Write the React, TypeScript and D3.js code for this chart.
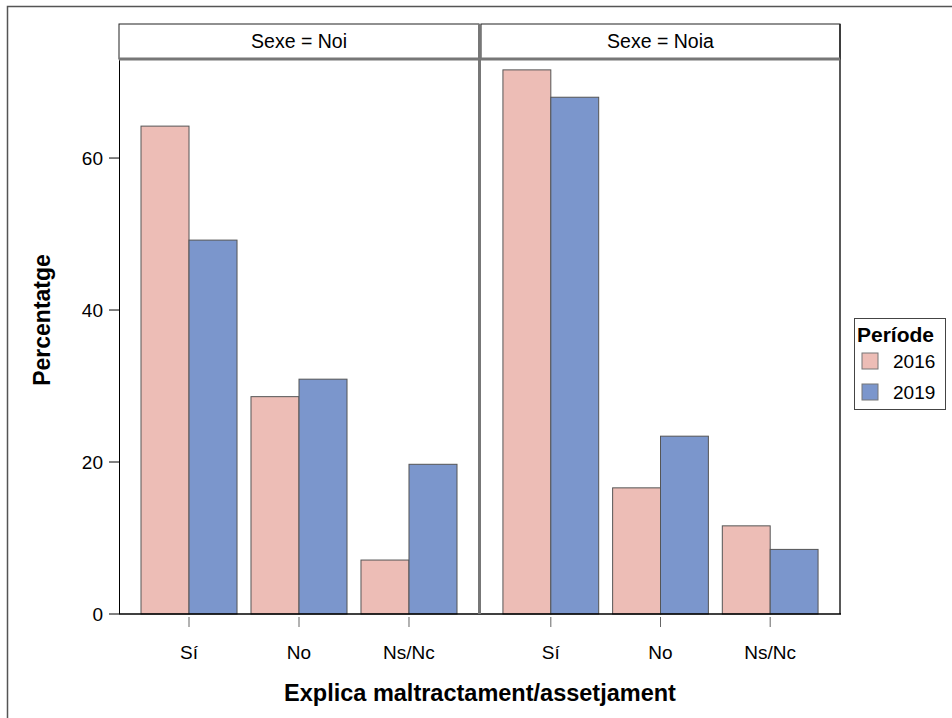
import React from "react";
import * as d3 from "d3";

const categories = ["Sí", "No", "Ns/Nc"];
const panels = ["Sexe = Noi", "Sexe = Noia"];
const periods = ["2016", "2019"];
const noi2016 = [64.2, 28.6, 7.1];
const noi2019 = [49.2, 30.9, 19.7];
const noia2016 = [71.6, 16.6, 11.6];
const noia2019 = [68.0, 23.4, 8.5];
const yTicks = [0, 20, 40, 60];

const colors = ["#EDBDB6", "#7B96CC"];
const font = "'Liberation Sans', Arial, sans-serif";

export default function App() {
  const W = 952, H = 718;
  const plotTop = 60, plotBottom = 614;
  const panelRanges: [number, number][] = [[119, 479], [481, 840]];
  const y = d3.scaleLinear().domain([0, 72.9]).range([plotBottom, plotTop]);
  const data = [
    [noi2016, noi2019],
    [noia2016, noia2019],
  ];

  return (
    <svg width={W} height={H} style={{ position: "absolute", left: 0, top: 0, background: "#fff" }} fontFamily={font}>
      <rect x={7.5} y={6.5} width={1000} height={1000} fill="none" stroke="#555" strokeWidth={1.5} />
      {panels.map((p, pi) => {
        const [x0, x1] = panelRanges[pi];
        const xb = d3.scaleBand().domain(categories).range([x0, x1]).paddingInner(0.127).paddingOuter(0.2);
        const xs = d3.scaleBand().domain(periods).range([0, xb.bandwidth()]);
        return (
          <g key={p}>
            <rect x={x0} y={24} width={x1 - x0} height={35} fill="#fff" stroke="#222" strokeWidth={1} />
            <text x={(x0 + x1) / 2} y={48} textAnchor="middle" fontSize={19.5} fill="#000">{p}</text>
            {categories.map((c, ci) =>
              periods.map((per, si) => {
                const v = data[pi][si][ci];
                const bx = (xb(c) as number) + (xs(per) as number);
                return (
                  <rect key={c + per} x={bx} y={y(v)} width={xs.bandwidth()} height={y(0) - y(v)}
                    fill={colors[si]} stroke="#555" strokeWidth={1} />
                );
              })
            )}
            {categories.map((c) => {
              const cx = (xb(c) as number) + xb.bandwidth() / 2;
              return (
                <g key={c}>
                  <line x1={cx} x2={cx} y1={617} y2={627} stroke="#666" strokeWidth={1} />
                  <text x={cx} y={659} textAnchor="middle" fontSize={19} fill="#000">{c}</text>
                </g>
              );
            })}
          </g>
        );
      })}
      {/* panel frames */}
      <line x1={119.5} x2={119.5} y1={59} y2={plotBottom} stroke="#000" strokeWidth={1} />
      <line x1={840} x2={840} y1={24} y2={plotBottom} stroke="#222" strokeWidth={1.5} />
      <line x1={119} x2={841} y1={plotBottom} y2={plotBottom} stroke="#000" strokeWidth={1.5} />
      <line x1={479.5} x2={479.5} y1={24} y2={plotBottom} stroke="#777" strokeWidth={3} />
      <line x1={119} x2={840} y1={59} y2={59} stroke="#777" strokeWidth={3} />
      {/* y axis */}
      {yTicks.map((t) => (
        <g key={t}>
          <line x1={109} x2={119} y1={y(t)} y2={y(t)} stroke="#000" strokeWidth={1} />
          <text x={103} y={y(t) + 7} textAnchor="end" fontSize={19} fill="#000">{t}</text>
        </g>
      ))}
      <text transform={`translate(50,320) rotate(-90)`} textAnchor="middle"
        fontSize={23} fontWeight="bold" fill="#000">Percentatge</text>
      <text x={480} y={701} textAnchor="middle" fontSize={23.5} fontWeight="bold" fill="#000">Explica maltractament/assetjament</text>
      {/* legend */}
      <rect x={854.5} y={318.5} width={91} height={91} fill="#fff" stroke="#444" strokeWidth={1} />
      <text x={857} y={342} fontSize={21} fontWeight="bold" fill="#000">Període</text>
      {periods.map((per, i) => (
        <g key={per}>
          <rect x={862} y={353 + i * 31} width={16} height={16} fill={colors[i]} stroke="#777" strokeWidth={1} />
          <text x={893} y={368 + i * 31} fontSize={19} fill="#000">{per}</text>
        </g>
      ))}
    </svg>
  );
}
